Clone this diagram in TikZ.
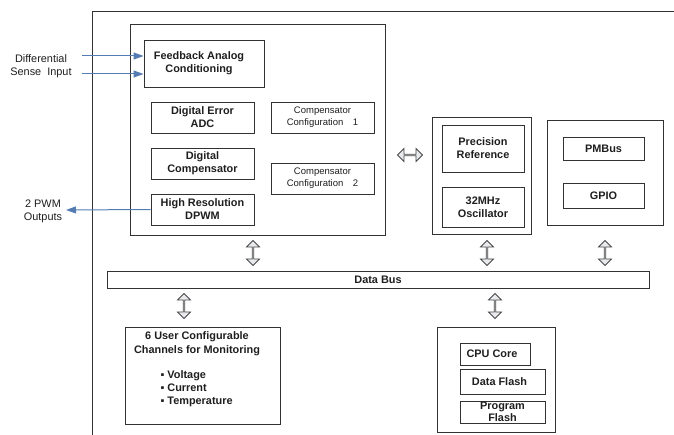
\documentclass[tikz,border=0pt]{standalone}
\usepackage{fontspec}
\setmainfont{Liberation Sans}
\usepackage{tikz}
\usetikzlibrary{arrows.meta,shapes.arrows}
\definecolor{sigblue}{RGB}{84,124,178}
\definecolor{linegray}{RGB}{50,50,50}
\definecolor{arrowfill}{RGB}{232,234,237}
\definecolor{textgray}{RGB}{30,30,30}

\begin{document}
\begin{tikzpicture}[x=1pt, y=-1pt,
    every node/.style={text=textgray, font=\fontsize{10.9}{13}\selectfont},
    grp/.style={draw=linegray, line width=0.9pt, inner sep=0pt},
    blk/.style={draw=linegray, line width=0.9pt, inner sep=0pt, align=center,
                font=\fontsize{10.9}{13}\selectfont\bfseries},
    cfgblk/.style={blk, font=\fontsize{9.5}{12}\selectfont,
                   minimum width=103pt, minimum height=31pt},
    dspblk/.style={blk, minimum width=103pt, minimum height=31pt},
    sig/.style={draw=sigblue, line width=1pt, -{Triangle[length=10pt, width=7pt]}},
    busarrow/.style={double arrow, draw=linegray!90, fill=arrowfill, line width=0.8pt,
                     inner sep=0pt, minimum height=25pt, minimum width=13pt,
                     double arrow head extend=3.5pt}]
    \useasboundingbox (0,0) rectangle (674,435);
    % Device frame
    \draw[linegray, line width=1pt] (674,12) -- (92,12) -- (92,435);
    % Control loop
    \node[grp, minimum width=255pt, minimum height=211pt] (ctrl) at (257.5,129.5) {};
    \node[blk, minimum width=120pt, minimum height=47pt] (fac) at (204,63.5)
         {\hspace*{-10pt}Feedback Analog\\\hspace*{-10pt}Conditioning};
    \node[dspblk] (adc)   at (202.5,117.5) {Digital Error\\ADC};
    \node[dspblk] (dcomp) at (202.5,163.5) {Digital\\Compensator};
    \node[dspblk] (dpwm)  at (202.5,209.5) {High Resolution\\DPWM};
    \node[cfgblk] (cfga)  at (322.5,117.5) {Compensator\\Configuration\hspace*{1em}1};
    \node[cfgblk] (cfgb)  at (322.5,178.5) {Compensator\\Configuration\hspace*{1em}2};
    % Inputs & outputs
    \node[align=center] (sensetxt) at (41,66) {Differential\\Sense\ \ Input};
    \node[align=center] (pwmtxt)   at (43,211) {2 PWM\\Outputs};
    \coordinate (sensea) at (82,56);
    \coordinate (senseb) at (82,74);
    \coordinate (pwmout) at (66,210);
    \draw[sig] (sensea) -- (fac.west |- sensea);
    \draw[sig] (senseb) -- (fac.west |- senseb);
    \draw[sig] (dpwm.west) -- (pwmout);
    % Reference & clock
    \node[grp, minimum width=99pt, minimum height=117pt] (clk) at (481.5,175.5) {};
    \node[blk, minimum width=82pt, minimum height=47pt] (pref) at (483,148.5) {Precision\\Reference};
    \node[blk, minimum width=82pt, minimum height=40pt] (osc)  at (483,207) {32MHz\\Oscillator};
    % Interfaces
    \node[grp, minimum width=116pt, minimum height=105pt] (io) at (605,172.5) {};
    \node[blk, minimum width=81pt, minimum height=23pt] (pmbus) at (603.5,148.5) {PMBus};
    \node[blk, minimum width=81pt, minimum height=25pt] (gpio)  at (603.5,195.5) {GPIO};
    % Data bus
    \node[blk, minimum width=542pt, minimum height=17pt] (bus) at (378,279.5) {Data Bus};
    \node[busarrow] (ctrlbus) at (410,155) {};
    \node[busarrow, shape border rotate=90] (ctrlarr) at (253,253) {};
    \node[busarrow, shape border rotate=90] (clkarr)  at (487,253) {};
    \node[busarrow, shape border rotate=90] (ioarr)   at (605,253) {};
    \node[busarrow, shape border rotate=90] (monarr)  at (184,306) {};
    \node[busarrow, shape border rotate=90] (cpuarr)  at (495,306) {};
    % Monitoring
    \node[grp, minimum width=155pt, minimum height=97pt] (mon) at (202.5,375.5) {};
    \node[align=center, font=\fontsize{10.9}{14}\selectfont\bfseries] (montitle) at (197,344)
         {6 User Configurable\\Channels for Monitoring};
    \node[anchor=west, align=left, font=\fontsize{10.9}{13}\selectfont\bfseries] (monlist) at (157,389)
         {▪ Voltage\\▪ Current\\▪ Temperature};
    % CPU & memory
    \node[grp, minimum width=118pt, minimum height=105pt] (cpu) at (496,379.5) {};
    \node[blk, minimum width=70pt, minimum height=22pt] (core)   at (495,354) {\hspace*{-6pt}CPU Core};
    \node[blk, minimum width=85pt, minimum height=25pt] (dflash) at (502.5,381.5) {\hspace*{-6pt}Data Flash};
    \node[blk, minimum width=85pt, minimum height=22pt, font=\fontsize{10.9}{11.5}\selectfont\bfseries]
         (pflash) at (502.5,412) {Program\\Flash};
\end{tikzpicture}
\end{document}
